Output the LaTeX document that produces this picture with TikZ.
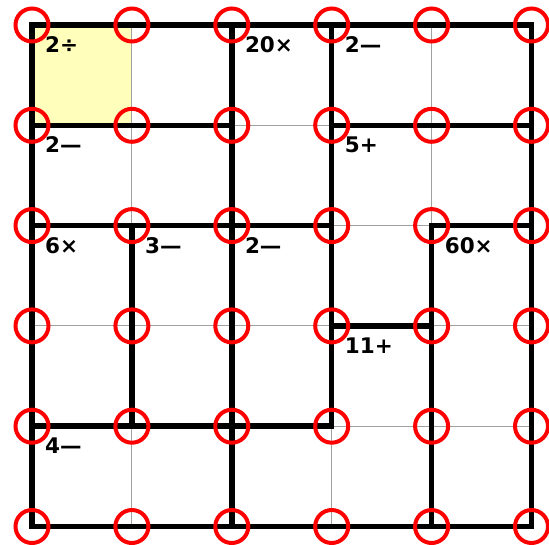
\documentclass[tikz,border=0pt]{standalone}
\usepackage{fontspec}
\setmainfont{DejaVu Sans}
\definecolor{cellyellow}{RGB}{255,255,187}
\definecolor{gridgray}{RGB}{160,160,160}
\begin{document}
\begin{tikzpicture}[x=1pt,y=-1pt,
  thingrid/.style={draw=gridgray, line width=1pt},
  cage/.style={draw=black, line width=5.5pt, line cap=rect},
  markcircle/.style={circle, draw=red, line width=4pt, minimum size=33pt, inner sep=0pt},
  cagelabel/.style={anchor=north west, inner sep=0pt, font=\fontsize{21.5}{21.5}\selectfont\bfseries}]
\useasboundingbox (0,0) rectangle (549,544);
\foreach \i in {0,...,5} {
  \foreach \j in {0,...,5} {
    \coordinate (p\i\j) at ({32+99.9*\i},{25+100.3*\j});
  }
}
% highlighted cell
\fill[cellyellow] (p00) rectangle (p11);
% thin grid
\foreach \k in {1,...,4} {
  \draw[thingrid] (p\k0) -- (p\k5);
  \draw[thingrid] (p0\k) -- (p5\k);
}
% cage borders
\draw[cage] (p00) rectangle (p55);
\draw[cage] (p12) -- (p14);
\draw[cage] (p20) -- (p25);
\draw[cage] (p30) -- (p34);
\draw[cage] (p42) -- (p45);
\draw[cage] (p01) -- (p21);
\draw[cage] (p31) -- (p51);
\draw[cage] (p02) -- (p32);
\draw[cage] (p42) -- (p52);
\draw[cage] (p33) -- (p43);
\draw[cage] (p04) -- (p34);
% labels
\node[cagelabel] (l1) at ([shift={(13,11.5)}]p00) {2÷};
\node[cagelabel] (l2) at ([shift={(13,11.5)}]p20) {20×};
\node[cagelabel] (l3) at ([shift={(13,11.5)}]p30) {2—};
\node[cagelabel] (l4) at ([shift={(13,11.5)}]p01) {2—};
\node[cagelabel] (l5) at ([shift={(13,11.5)}]p31) {5+};
\node[cagelabel] (l6) at ([shift={(13,11.5)}]p02) {6×};
\node[cagelabel] (l7) at ([shift={(13,11.5)}]p12) {3—};
\node[cagelabel] (l8) at ([shift={(13,11.5)}]p22) {2—};
\node[cagelabel] (l9) at ([shift={(13,11.5)}]p42) {60×};
\node[cagelabel] (l10) at ([shift={(13,11.5)}]p33) {11+};
\node[cagelabel] (l11) at ([shift={(13,11.5)}]p04) {4—};
% circles
\foreach \i in {0,...,5} {
  \foreach \j in {0,...,5} {
    \node[markcircle] (c\i\j) at (p\i\j) {};
  }
}
\end{tikzpicture}
\end{document}
